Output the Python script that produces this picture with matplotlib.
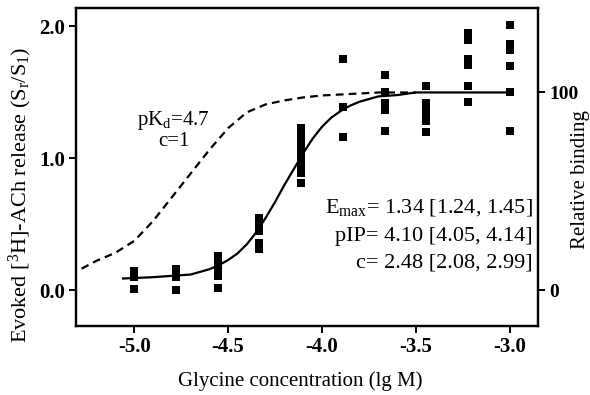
import matplotlib
matplotlib.use("Agg")
import matplotlib.pyplot as plt

plt.rcParams['font.family'] = ['Liberation Serif', 'DejaVu Serif']
plt.rcParams['mathtext.fontset'] = 'custom'
plt.rcParams['mathtext.rm'] = 'Liberation Serif'
plt.rcParams['mathtext.it'] = 'Liberation Serif:italic'
plt.rcParams['mathtext.bf'] = 'Liberation Serif:bold'

# ---- data ----
conc_groups = [-5.0, -4.778, -4.556, -4.333, -4.111, -3.889, -3.667, -3.444, -3.222, -3.0]
release_values = [
    [0.15, 0.10, 0.01],
    [0.16, 0.10, 0.00],
    [0.26, 0.21, 0.16, 0.11, 0.02],
    [0.55, 0.50, 0.45, 0.36, 0.31],
    [1.23, 1.17, 1.11, 1.05, 0.99, 0.94, 0.89, 0.81],
    [1.75, 1.39, 1.16],
    [1.63, 1.50, 1.42, 1.37, 1.21],
    [1.55, 1.42, 1.37, 1.33, 1.28, 1.20],
    [1.95, 1.90, 1.75, 1.71, 1.55, 1.43],
    [2.01, 1.87, 1.82, 1.70, 1.50, 1.21],
]

fit_x = [-5.06, -4.9, -4.8, -4.7, -4.65, -4.6, -4.55, -4.5, -4.45, -4.4, -4.35, -4.3,
         -4.25, -4.2, -4.15, -4.1, -4.05, -4.0, -3.95, -3.9, -3.85, -3.8, -3.75,
         -3.7, -3.6, -3.5, -3.0]
fit_y = [0.09, 0.10, 0.11, 0.12, 0.14, 0.16, 0.19, 0.23, 0.28, 0.35, 0.44, 0.55,
         0.67, 0.80, 0.92, 1.04, 1.15, 1.24, 1.31, 1.36, 1.40, 1.43, 1.45,
         1.47, 1.48, 1.50, 1.50]

bind_x = [-5.28, -5.2, -5.1, -5.0, -4.9, -4.8, -4.7, -4.6, -4.5, -4.4, -4.3, -4.2,
          -4.1, -4.0, -3.9, -3.8, -3.7, -3.6, -3.5]
bind_y = [11, 15, 19, 25, 35, 47, 59, 71, 82, 90, 94, 96, 97.5, 98.5, 99, 99.5,
          100, 100, 100]

x_ticks = [-5.0, -4.5, -4.0, -3.5, -3.0]
y_ticks = [0.0, 1.0, 2.0]
y2_ticks = [0, 100]

W, H = 590, 395
fig = plt.figure(figsize=(W / 100, H / 100), dpi=100)
ax = fig.add_axes([76 / W, 1 - 326 / H, (538 - 76) / W, (326 - 8) / H])
ax2 = ax.twinx()

for xv, vals in zip(conc_groups, release_values):
    ax.plot([xv] * len(vals), vals, 's', color='black', markersize=5.3,
            markeredgewidth=0, zorder=3)

ax.plot(fit_x, fit_y, '-', color='black', lw=1.6, zorder=2)
ax2.plot(bind_x, bind_y, color='black', lw=1.6, linestyle=(0, (3.5, 2.3)))

ax.set_xlim(-5.31, -2.85)
ax.set_ylim(-0.27, 2.14)
ax2.set_ylim(-18, 142.7)

ax.set_xticks(x_ticks)
ax.set_xticklabels([f"{t:.1f}" for t in x_ticks], fontweight='bold')
ax.set_yticks(y_ticks)
ax.set_yticklabels([f"{t:.1f}" for t in y_ticks], fontweight='bold')
ax2.set_yticks(y2_ticks)
ax2.set_yticklabels([str(t) for t in y2_ticks], fontweight='bold')

for a in (ax, ax2):
    for s in a.spines.values():
        s.set_linewidth(1.6)
ax.tick_params(axis='x', direction='out', length=5, width=1.4, labelsize=15, pad=3)
ax.tick_params(axis='y', direction='out', length=5, width=1.4, labelsize=15, pad=3)
ax2.tick_params(axis='y', direction='out', length=5, width=1.4, labelsize=14, pad=3)

fig.text(300 / W, 1 - 381 / H, "Glycine concentration (lg M)", fontsize=15,
         ha='center', va='center')
fig.text(20 / W, 1 - 195 / H, r"Evoked [$^{3}$H]-ACh release (S$_{\mathrm{r}}$/S$_{1}$)",
         fontsize=16, rotation=90, ha='center', va='center')
fig.text(581 / W, 1 - 180 / H, "Relative binding", fontsize=15, rotation=90,
         ha='center', va='center')

ax.text(-4.79, 1.29, r"pK$_{\mathrm{d}}$=4.7", fontsize=15, ha='center', va='center')
ax.text(-4.79, 1.13, "c=1", fontsize=15, ha='center', va='center')

ax.text(-2.88, 0.63, r"E$_{\mathrm{max}}$= 1.34 [1.24, 1.45]", fontsize=16, ha='right', va='center')
ax.text(-2.88, 0.41, "pIP= 4.10 [4.05, 4.14]", fontsize=16, ha='right', va='center')
ax.text(-2.88, 0.205, "c= 2.48 [2.08, 2.99]", fontsize=16, ha='right', va='center')

fig.savefig("out.png", dpi=100)
